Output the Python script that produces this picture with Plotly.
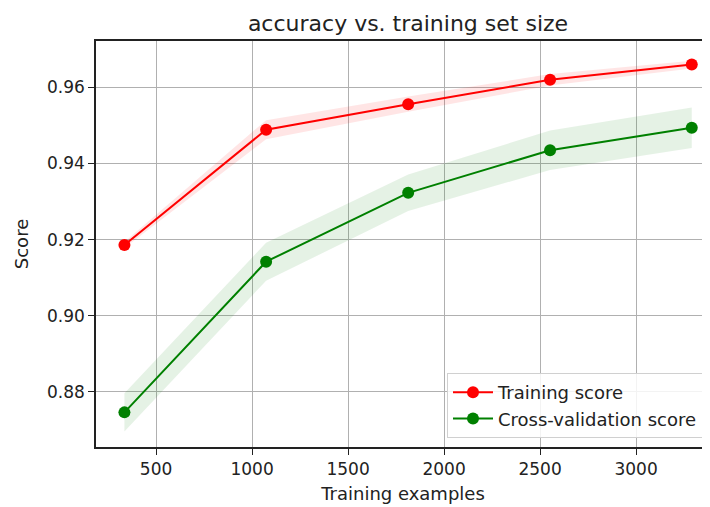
import plotly.graph_objects as go

train_sizes = [335, 1073, 1813, 2552, 3290]
train_mean = [0.9186, 0.9489, 0.9556, 0.9620, 0.9660]
train_std = [0.0008, 0.0025, 0.0020, 0.0015, 0.0010]
test_mean = [0.8746, 0.9142, 0.9323, 0.9435, 0.9494]
test_std = [0.0050, 0.0050, 0.0048, 0.0052, 0.0053]
x_ticks = [500, 1000, 1500, 2000, 2500, 3000]
y_ticks = [0.88, 0.90, 0.92, 0.94, 0.96]

RED = "#ff0000"
GREEN = "#008000"
FONT = "DejaVu Sans"
TXT = "#222"

W, H = 702, 499  # page body has an 8px margin
L, T, B = 88, 33, 60

fig = go.Figure()

def band(mean, std, fillcolor):
    lo = [m - s for m, s in zip(mean, std)]
    hi = [m + s for m, s in zip(mean, std)]
    fig.add_trace(go.Scatter(x=train_sizes, y=lo, mode="lines", line=dict(width=0),
                             showlegend=False, hoverinfo="skip"))
    fig.add_trace(go.Scatter(x=train_sizes, y=hi, mode="lines", line=dict(width=0),
                             fill="tonexty", fillcolor=fillcolor,
                             showlegend=False, hoverinfo="skip"))

band(train_mean, train_std, "rgba(255,0,0,0.1)")
band(test_mean, test_std, "rgba(0,128,0,0.1)")

fig.add_trace(go.Scatter(x=train_sizes, y=train_mean, mode="lines+markers",
                         name="Training score", legendgroup="a",
                         line=dict(color=RED, width=2),
                         marker=dict(color=RED, size=12)))
fig.add_trace(go.Scatter(x=train_sizes, y=test_mean, mode="lines+markers",
                         name="Cross-validation score", legendgroup="b",
                         line=dict(color=GREEN, width=2),
                         marker=dict(color=GREEN, size=12)))

pw = W - L
ph = H - T - B
fig.update_layout(
    width=W, height=H,
    margin=dict(l=L, r=0, t=T, b=B, pad=0),
    paper_bgcolor="white", plot_bgcolor="white",
    font=dict(family=FONT, size=17, color=TXT),
    title=dict(text="accuracy vs. training set size", x=400 / W, xanchor="center",
               y=1 - 15 / H, yanchor="middle", font=dict(size=22, color=TXT)),
    legend=dict(x=(695 - L) / pw, xanchor="right", y=9 / ph, yanchor="bottom",
                bgcolor="rgba(255,255,255,0.85)", bordercolor="#d0d0d0", borderwidth=1,
                font=dict(size=18), traceorder="normal", tracegroupgap=6, itemwidth=40),
    showlegend=True,
)
fig.update_xaxes(
    range=[187, 3385], tickvals=x_ticks, ticktext=[str(v) for v in x_ticks],
    showgrid=True, gridcolor="#b0b0b0", gridwidth=1,
    showline=True, linecolor=TXT, linewidth=1.5, mirror=True,
    ticks="outside", ticklen=6, tickcolor=TXT,
    zeroline=False,
    title=dict(text="Training examples", font=dict(size=18), standoff=9),
)
fig.update_yaxes(
    range=[0.8655, 0.9722], tickvals=y_ticks, ticktext=[f"{v:.2f}" for v in y_ticks],
    showgrid=True, gridcolor="#b0b0b0", gridwidth=1,
    showline=True, linecolor=TXT, linewidth=1.5,
    ticks="outside", ticklen=6, tickcolor=TXT,
    zeroline=False,
    title=dict(text="Score", font=dict(size=18), standoff=14),
)

fig.write_html("out.html")
